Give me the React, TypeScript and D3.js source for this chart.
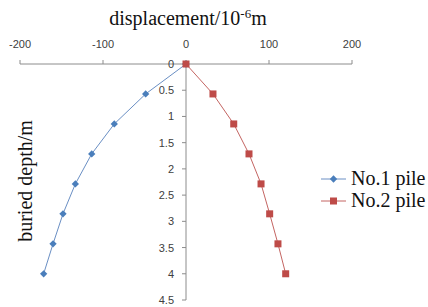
import React from "react";
import * as d3 from "d3";

const depth = [0, 0.571, 1.143, 1.714, 2.286, 2.857, 3.429, 4.0];
const pile1 = [0, -48.6, -86.4, -113.6, -133.3, -148.2, -160.2, -171.5];
const pile2 = [0, 32.5, 57.5, 75.9, 90.4, 100.8, 110.8, 120.1];
const xTicks = [-200, -100, 0, 100, 200];
const yTicks = [0, 0.5, 1, 1.5, 2, 2.5, 3, 3.5, 4, 4.5];
const seriesNames = ["No.1 pile", "No.2 pile"];

const W = 428;
const H = 307;
const BLUE = "#4A7EBB";
const BLUE_LINE = "#6a8fc4";
const RED = "#BE4B48";
const RED_LINE = "#c46562";
const AXIS = "#8c8c8c";
const LABEL = "#404040";

const SANS = "Liberation Sans, Arial, sans-serif";
const SERIF = "Liberation Serif, Times New Roman, serif";

export default function App() {
  const x = d3.scaleLinear().domain([-200, 200]).range([20, 352]);
  const y = d3.scaleLinear().domain([0, 4.5]).range([64, 300]);
  const line = d3
    .line<[number, number]>()
    .x((d) => x(d[0]))
    .y((d) => y(d[1]));
  const s1: [number, number][] = pile1.map((v, i) => [v, depth[i]]);
  const s2: [number, number][] = pile2.map((v, i) => [v, depth[i]]);
  const diamondType = (d3 as any).symbolDiamond2 || d3.symbolDiamond;
  const diamond = d3.symbol().type(diamondType).size(34)();

  return (
    <svg
      width={W}
      height={H}
      style={{ position: "absolute", left: 0, top: 0, background: "#fff", fontFamily: SERIF }}
    >
      <rect width={W} height={H} fill="#fff" />
      {/* title */}
      <text x={188} y={25} style={{ fontFamily: SERIF, fontSize: "20px" }} textAnchor="middle" fill="#111">
        displacement/10
        <tspan dy={-7} style={{ fontSize: "13px" }}>-6</tspan>
        <tspan dy={7}>m</tspan>
      </text>
      {/* x axis */}
      <line x1={x(-200)} x2={x(200)} y1={y(0)} y2={y(0)} stroke={AXIS} strokeWidth={1} />
      {xTicks.map((t) => (
        <g key={"xt" + t}>
          <line x1={x(t)} x2={x(t)} y1={y(0)} y2={y(0) - 4} stroke={AXIS} />
          <text x={x(t)} y={48} style={{ fontFamily: SANS, fontSize: "11px" }} textAnchor="middle" fill={LABEL}>
            {t}
          </text>
        </g>
      ))}
      {/* y axis */}
      <line x1={x(0)} x2={x(0)} y1={y(0)} y2={y(4.5)} stroke={AXIS} strokeWidth={1} />
      {yTicks.map((t) => (
        <g key={"yt" + t}>
          <line x1={x(0) - 4} x2={x(0)} y1={y(t)} y2={y(t)} stroke={AXIS} />
          <text
            x={174}
            y={y(t) + 4}
            style={{ fontFamily: SANS, fontSize: "11px" }}
            textAnchor="end"
            fill={LABEL}
          >
            {t}
          </text>
        </g>
      ))}
      {/* y title */}
      <text
        transform={`translate(32,181) rotate(-90)`}
        style={{ fontFamily: SERIF, fontSize: "20px" }}
        textAnchor="middle"
        fill="#111"
      >
        buried depth/m
      </text>
      {/* series */}
      <path d={line(s1) || ""} fill="none" stroke={BLUE_LINE} strokeWidth={1} />
      <path d={line(s2) || ""} fill="none" stroke={RED_LINE} strokeWidth={1} />
      {s1.map((d, i) => (
        <path key={"d" + i} d={diamond || ""} transform={`translate(${x(d[0])},${y(d[1])})`} fill={BLUE} />
      ))}
      {s2.map((d, i) => (
        <rect key={"s" + i} x={x(d[0]) - 3.5} y={y(d[1]) - 3.5} width={7} height={7} fill={RED} />
      ))}
      {/* legend */}
      {seriesNames.map((n, i) => {
        const ly = 179 + i * 22;
        return (
          <g key={n}>
            <line x1={321} x2={346} y1={ly} y2={ly} stroke={i === 0 ? BLUE_LINE : RED_LINE} />
            {i === 0 ? (
              <path d={diamond || ""} transform={`translate(333.5,${ly})`} fill={BLUE} />
            ) : (
              <rect x={330} y={ly - 3.5} width={7} height={7} fill={RED} />
            )}
            <text x={351} y={ly + 6} style={{ fontFamily: SERIF, fontSize: "20px" }} fill="#111">
              {n}
            </text>
          </g>
        );
      })}
    </svg>
  );
}
